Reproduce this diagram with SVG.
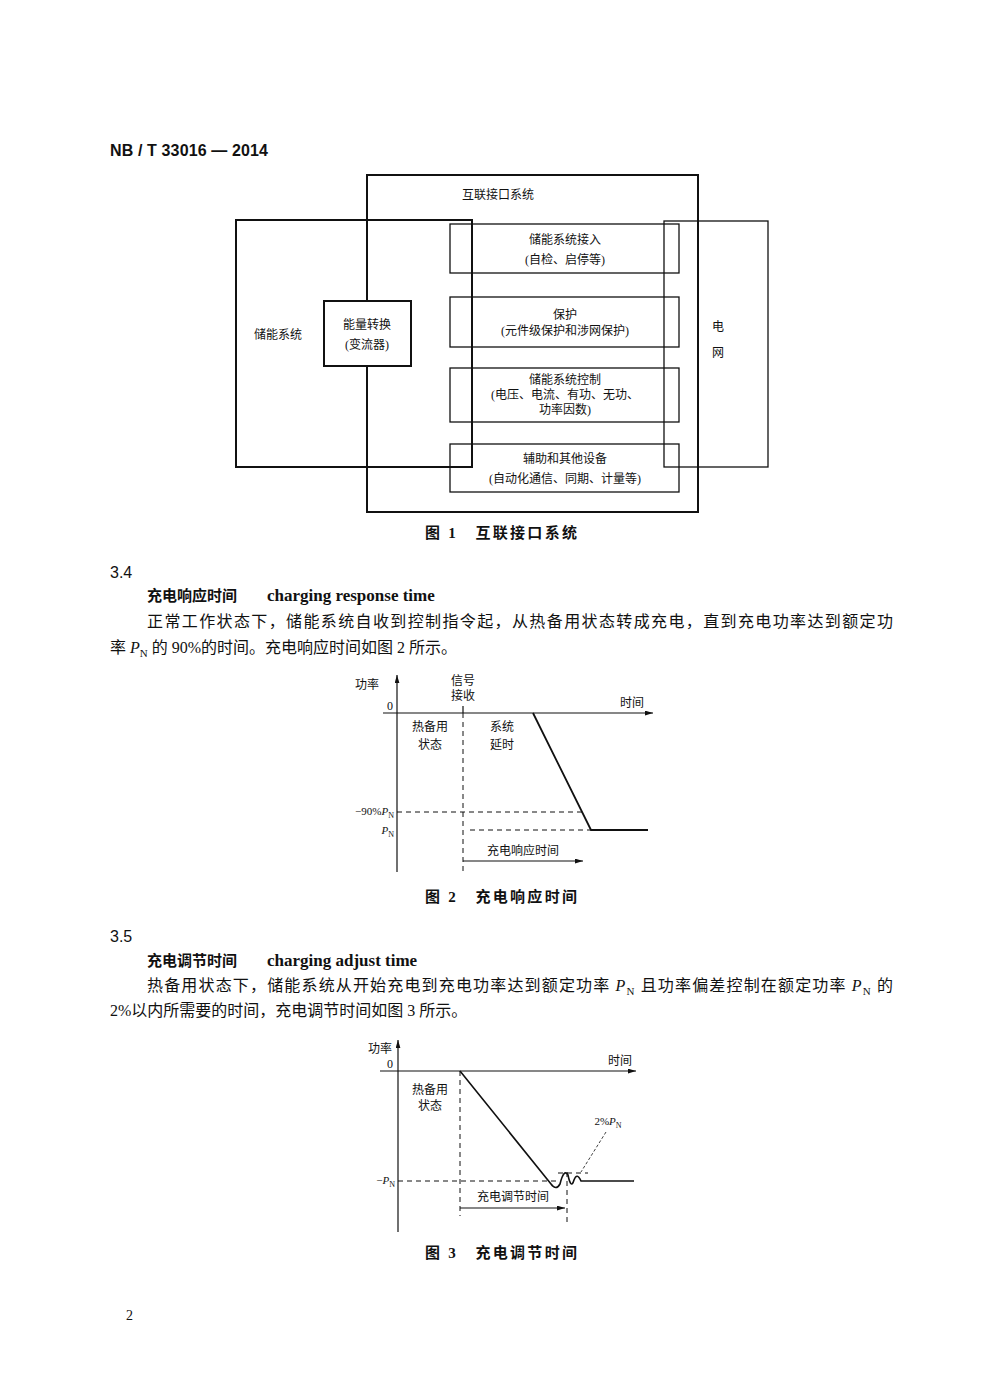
<svg xmlns="http://www.w3.org/2000/svg" width="986" height="1400" viewBox="0 0 986 1400">
<defs>
<style>
.t{font-family:"Liberation Serif","Noto Sans CJK SC",serif;fill:#111}
.s12{font-size:12px}
.b16{font-size:16px}
.cap{font-family:"Liberation Serif","Noto Sans CJK SC",serif;font-size:15px;font-weight:bold;fill:#111}
.box{fill:none;stroke:#111;stroke-width:1.3}
.thick{fill:none;stroke:#111;stroke-width:2}
.ln{fill:none;stroke:#111;stroke-width:1.2}
.dash{fill:none;stroke:#111;stroke-width:1;stroke-dasharray:5,4}
.pi{font-style:italic}
</style>
<marker id="ar" viewBox="0 0 10 6" refX="10" refY="3" markerWidth="8" markerHeight="5" orient="auto" markerUnits="userSpaceOnUse">
<path d="M0,0 L10,3 L0,6 z" fill="#111"/>
</marker>
</defs>
<rect x="0" y="0" width="986" height="1400" fill="#fff"/>

<text x="110" y="156" font-family="Liberation Sans,Noto Sans CJK SC,sans-serif" font-size="16" font-weight="bold" fill="#111" textLength="158" lengthAdjust="spacing">NB / T 33016 — 2014</text>

<!-- Figure 1 -->
<g id="interface-system">
<rect class="thick" x="367" y="175" width="331" height="337"/>
<text class="t s12" x="498" y="199" text-anchor="middle">互联接口系统</text>
</g>
<g id="storage-system">
<rect class="thick" x="236" y="220" width="236" height="247"/>
<text class="t s12" x="278" y="339" text-anchor="middle">储能系统</text>
</g>
<g id="grid">
<rect class="box" x="664" y="221" width="104" height="246"/>
<text class="t s12" x="718" y="331" text-anchor="middle">电</text>
<text class="t s12" x="718" y="357" text-anchor="middle">网</text>
</g>
<g id="energy-conversion">
<rect x="324" y="301" width="87" height="65" style="fill:#fff;stroke:#111;stroke-width:2"/>
<text class="t s12" x="367" y="329" text-anchor="middle">能量转换</text>
<text class="t s12" x="367" y="349" text-anchor="middle">(变流器)</text>
</g>
<g id="storage-access">
<rect class="box" x="450" y="224" width="229" height="49"/>
<text class="t s12" x="565" y="244" text-anchor="middle">储能系统接入</text>
<text class="t s12" x="565" y="264" text-anchor="middle">(自检、启停等)</text>
</g>
<g id="protection">
<rect class="box" x="450" y="297" width="229" height="50"/>
<text class="t s12" x="565" y="319" text-anchor="middle">保护</text>
<text class="t s12" x="565" y="335" text-anchor="middle">(元件级保护和涉网保护)</text>
</g>
<g id="storage-control">
<rect class="box" x="450" y="368" width="229" height="54"/>
<text class="t s12" x="565" y="384" text-anchor="middle">储能系统控制</text>
<text class="t s12" x="565" y="399" text-anchor="middle">(电压、电流、有功、无功、</text>
<text class="t s12" x="565" y="414" text-anchor="middle">功率因数)</text>
</g>
<g id="auxiliary">
<rect class="box" x="450" y="444" width="229" height="48"/>
<text class="t s12" x="565" y="463" text-anchor="middle">辅助和其他设备</text>
<text class="t s12" x="565" y="483" text-anchor="middle">(自动化通信、同期、计量等)</text>
</g>
<text class="cap" x="425" y="538" textLength="152" lengthAdjust="spacing">图 1　互联接口系统</text>

<!-- Section 3.4 -->
<text x="110" y="578" font-family="Liberation Sans,sans-serif" font-size="16" fill="#111">3.4</text>
<text class="t" x="147" y="601" font-size="15" font-weight="bold">充电响应时间</text>
<text class="t" x="267" y="601" font-size="17" font-weight="bold">charging response time</text>
<text class="t b16" x="147" y="627" textLength="746" lengthAdjust="spacing">正常工作状态下，储能系统自收到控制指令起，从热备用状态转成充电，直到充电功率达到额定功</text>
<text class="t b16" x="110" y="653">率 <tspan class="pi">P</tspan><tspan font-size="11" dy="4">N</tspan><tspan dy="-4"> 的 90%的时间。充电响应时间如图 2 所示。</tspan></text>

<!-- Connectors / axes -->
<g id="connectors">
<line class="ln" x1="397" y1="872" x2="397" y2="675" marker-end="url(#ar)"/>
<line class="ln" x1="383" y1="713" x2="653" y2="713" marker-end="url(#ar)"/>
<line class="ln" x1="463" y1="706" x2="463" y2="713"/>
<line class="dash" x1="463" y1="713" x2="463" y2="872"/>
<line class="dash" x1="397" y1="812" x2="584" y2="812"/>
<line class="dash" x1="470" y1="830" x2="591" y2="830"/>
<polyline points="533,713 591,830 648,830" fill="none" stroke="#111" stroke-width="1.8"/>
<line class="ln" x1="463" y1="861" x2="583" y2="861" marker-end="url(#ar)"/>

<line class="ln" x1="398" y1="1232" x2="398" y2="1040" marker-end="url(#ar)"/>
<line class="ln" x1="380" y1="1071" x2="636" y2="1071" marker-end="url(#ar)"/>
<line class="dash" x1="460" y1="1071" x2="460" y2="1216"/>
<line class="dash" x1="398" y1="1181" x2="556" y2="1181"/>
<line class="dash" x1="558" y1="1173" x2="588" y2="1173"/>
<line class="dash" x1="567" y1="1172" x2="567" y2="1222"/>
<path d="M460,1071 L551,1184 Q556,1191 560,1184 Q564,1168 568,1175 Q571,1190 574,1180 Q577,1172 581,1181 L634,1181" fill="none" stroke="#111" stroke-width="1.6"/>
<line class="ln" x1="460" y1="1208" x2="565" y2="1208" marker-end="url(#ar)"/>
<line x1="606" y1="1132" x2="581" y2="1172" stroke="#111" stroke-width="0.8" stroke-dasharray="3,2"/>
</g>

<g id="fig2-labels">
<text class="t s12" x="367" y="689" text-anchor="middle">功率</text>
<text class="t s12" x="390" y="710" text-anchor="middle">0</text>
<text class="t s12" x="463" y="685" text-anchor="middle">信号</text>
<text class="t s12" x="463" y="700" text-anchor="middle">接收</text>
<text class="t s12" x="632" y="707" text-anchor="middle">时间</text>
<text class="t s12" x="430" y="731" text-anchor="middle">热备用</text>
<text class="t s12" x="430" y="749" text-anchor="middle">状态</text>
<text class="t s12" x="502" y="731" text-anchor="middle">系统</text>
<text class="t s12" x="502" y="749" text-anchor="middle">延时</text>
<text class="t" x="394" y="815" font-size="11" text-anchor="end">−90%<tspan class="pi">P</tspan><tspan font-size="8" dy="3">N</tspan></text>
<text class="t" x="394" y="834" font-size="11" text-anchor="end"><tspan class="pi">P</tspan><tspan font-size="8" dy="3">N</tspan></text>
<text class="t s12" x="523" y="855" text-anchor="middle">充电响应时间</text>
</g>
<text class="cap" x="425" y="902" textLength="152" lengthAdjust="spacing">图 2　充电响应时间</text>

<!-- Section 3.5 -->
<text x="110" y="942" font-family="Liberation Sans,sans-serif" font-size="16" fill="#111">3.5</text>
<text class="t" x="147" y="966" font-size="15" font-weight="bold">充电调节时间</text>
<text class="t" x="267" y="966" font-size="17" font-weight="bold">charging adjust time</text>
<text class="t b16" x="147" y="991" textLength="746" lengthAdjust="spacing">热备用状态下，储能系统从开始充电到充电功率达到额定功率 <tspan class="pi">P</tspan><tspan font-size="11" dy="4">N</tspan><tspan dy="-4"> 且功率偏差控制在额定功率 </tspan><tspan class="pi">P</tspan><tspan font-size="11" dy="4">N</tspan><tspan dy="-4"> 的</tspan></text>
<text class="t b16" x="110" y="1016">2%以内所需要的时间，充电调节时间如图 3 所示。</text>

<g id="fig3-labels">
<text class="t s12" x="380" y="1053" text-anchor="middle">功率</text>
<text class="t s12" x="390" y="1068" text-anchor="middle">0</text>
<text class="t s12" x="620" y="1065" text-anchor="middle">时间</text>
<text class="t s12" x="430" y="1094" text-anchor="middle">热备用</text>
<text class="t s12" x="430" y="1110" text-anchor="middle">状态</text>
<text class="t" x="608" y="1125" font-size="11" text-anchor="middle">2%<tspan class="pi">P</tspan><tspan font-size="8" dy="3">N</tspan></text>
<text class="t" x="395" y="1184" font-size="11" text-anchor="end">−<tspan class="pi">P</tspan><tspan font-size="8" dy="3">N</tspan></text>
<text class="t s12" x="513" y="1201" text-anchor="middle">充电调节时间</text>
</g>
<text class="cap" x="425" y="1258" textLength="152" lengthAdjust="spacing">图 3　充电调节时间</text>

<text x="126" y="1320" font-family="Liberation Serif,serif" font-size="14" fill="#111">2</text>
</svg>
